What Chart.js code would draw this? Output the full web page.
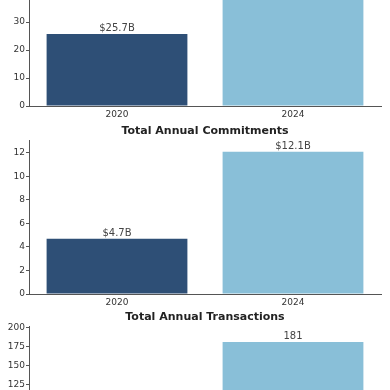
<!DOCTYPE html>
<html>
<head>
<meta charset="utf-8">
<script src="https://cdn.jsdelivr.net/npm/chart.js@4"></script>
<style>
  html, body { margin: 0; padding: 0; background: #fff; }
  #wrap { position: relative; width: 390px; height: 390px; overflow: hidden; }
  #wrap canvas { position: absolute; left: 0; }
</style>
</head>
<body>
<div id="wrap">
  <canvas id="c1" width="390" height="190" style="top:-68px"></canvas>
  <canvas id="c2" width="390" height="190" style="top:120px"></canvas>
  <canvas id="c3" width="390" height="190" style="top:306px"></canvas>
</div>
<script>
const years = ['2020', '2024'];
const barColors = ['#2e4f76', '#89bfd8'];

const investmentValues = [25.7, 52.4];
const commitmentValues = [4.7, 12.1];
const transactionValues = [98, 181];

const investmentTicks = [0, 10, 20, 30, 40, 50];
const commitmentTicks = [0, 2, 4, 6, 8, 10, 12];
const transactionTicks = [0, 25, 50, 75, 100, 125, 150, 175, 200];

const panels = [
  { id: 'c1', title: 'Total Annual Investment', values: investmentValues, ticks: investmentTicks, max: 55, prefix: '$', suffix: 'B' },
  { id: 'c2', title: 'Total Annual Commitments', values: commitmentValues, ticks: commitmentTicks, max: 13.1, prefix: '$', suffix: 'B' },
  { id: 'c3', title: 'Total Annual Transactions', values: transactionValues, ticks: transactionTicks, max: 202, prefix: '', suffix: '' }
];

const FONT = 'DejaVu Sans';
const textColor = '#333';
const axisColor = '#555';

// title centred over the plot area + value labels on top of each bar
function panelText(title, prefix, suffix) {
  return {
    id: 'panelText',
    afterDatasetsDraw(chart) {
      const ctx = chart.ctx;
      const area = chart.chartArea;
      const meta = chart.getDatasetMeta(0);
      ctx.save();
      ctx.textAlign = 'center';

      ctx.font = 'bold 11px "' + FONT + '"';
      ctx.fillStyle = '#222';
      ctx.textBaseline = 'middle';
      ctx.fillText(title, (area.left + area.right) / 2, 11);

      ctx.font = '10px "' + FONT + '"';
      ctx.fillStyle = '#444';
      ctx.textBaseline = 'bottom';
      meta.data.forEach((bar, i) => {
        ctx.fillText(prefix + chart.data.datasets[0].data[i] + suffix, bar.x, bar.y - 0.5);
      });
      ctx.restore();
    }
  };
}

panels.forEach(p => {
  new Chart(document.getElementById(p.id), {
    type: 'bar',
    data: {
      labels: years,
      datasets: [{
        data: p.values,
        backgroundColor: barColors,
        borderWidth: 0,
        barPercentage: 0.8,
        categoryPercentage: 1.0
      }]
    },
    options: {
      responsive: false,
      animation: false,
      layout: { padding: { left: 0, right: 9, top: 20, bottom: 0 } },
      plugins: {
        legend: { display: false },
        tooltip: { enabled: false },
        title: { display: false }
      },
      scales: {
        x: {
          afterFit: s => { s.height = 16; },
          grid: { display: true, drawOnChartArea: false, drawTicks: false },
          border: { display: true, color: axisColor, width: 1 },
          ticks: { color: textColor, font: { family: FONT, size: 9 }, padding: 3, maxRotation: 0 }
        },
        y: {
          min: 0,
          max: p.max,
          afterFit: s => { s.width = 29; },
          afterBuildTicks: s => { s.ticks = p.ticks.map(v => ({ value: v })); },
          grid: { display: true, drawOnChartArea: false, drawTicks: true, tickLength: 3, color: axisColor },
          border: { display: true, color: axisColor, width: 1 },
          ticks: { color: textColor, font: { family: FONT, size: 9 }, padding: 1 }
        }
      }
    },
    plugins: [panelText(p.title, p.prefix, p.suffix)]
  });
});
</script>
</body>
</html>
